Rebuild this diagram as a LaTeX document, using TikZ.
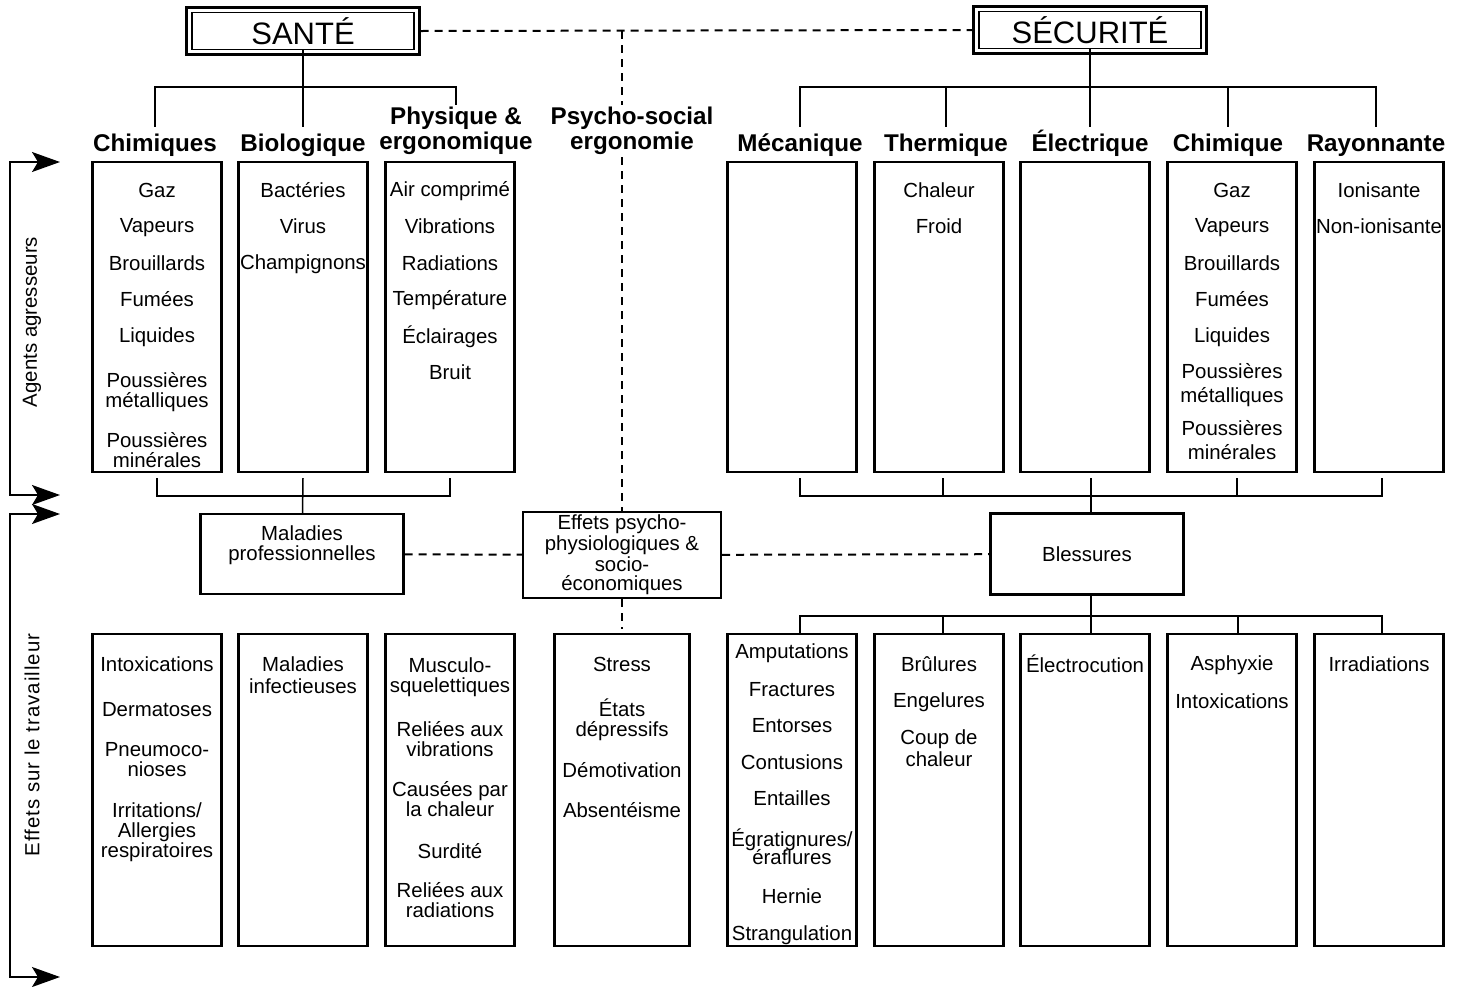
\documentclass[tikz,border=0pt]{standalone}
\usepackage{fontspec}
\setmainfont{Liberation Sans}
\usetikzlibrary{arrows.meta,calc}

\begin{document}
\begin{tikzpicture}[x=0.5pt, y=-0.5pt,
  box/.style={draw, line width=1.2pt, minimum width=64.5pt, minimum height=155pt, inner sep=0pt},
  lowbox/.style={box, minimum height=156pt},
  midbox/.style={draw, line width=1.2pt, align=center, inner sep=0pt, font=\fontsize{10.2}{9.5}\selectfont},
  titlebox/.style={draw, line width=0.7pt, minimum width=111pt, minimum height=18.5pt, inner sep=0pt, font=\fontsize{15.5}{18}\selectfont},
  head/.style={font=\bfseries\fontsize{12.1}{11}\selectfont, align=center, inner sep=1pt,
    execute at begin node={\rule{0pt}{11pt}}, execute at end node={\rule[-3pt]{0pt}{3pt}}},
  item/.style={font=\fontsize{10.2}{10}\selectfont, align=center, inner sep=0pt,
    execute at begin node={\rule{0pt}{7.6pt}}, execute at end node={\rule[-1.6pt]{0pt}{1.6pt}}},
  side/.style={font=\fontsize{10.2}{12}\selectfont, rotate=90},
  conn/.style={line width=0.75pt},
  dashline/.style={line width=1pt, dash pattern=on 4pt off 3pt},
  sidearrow/.style={line width=0.75pt, arrows={Stealth[length=14pt,width=10pt,inset=3pt]-Stealth[length=14pt,width=10pt,inset=3pt]}}]
\useasboundingbox (0,0) rectangle (1462,986);

% Titles
\node[titlebox] (sante) at (303,31) {SANTÉ};
\node[titlebox] (secu) at (1090,30) {SÉCURITÉ};
\draw[line width=1.5pt] ([shift={(-2.2pt,2.2pt)}]sante.north west) rectangle ([shift={(2.2pt,-2.2pt)}]sante.south east);
\draw[line width=1.5pt] ([shift={(-2.2pt,2.2pt)}]secu.north west) rectangle ([shift={(2.2pt,-2.2pt)}]secu.south east);
\coordinate (vtop) at (622,31);

% Categories
\node[head] (chimH) at (155,143) {Chimiques};
\node[head] (bioH) at (303,143) {Biologique};
\node[head] (physH) at (456,131) {Physique \&\\ergonomique};
\node[head] (psyH) at (632,131) {Psycho-social\\ergonomie};
\node[head] (mecaH) at (800,143) {Mécanique};
\node[head] (thermH) at (946,143) {Thermique};
\node[head] (elecH) at (1090,143) {Électrique};
\node[head] (chimsH) at (1228,143) {Chimique};
\node[head] (rayoH) at (1376,143) {Rayonnante};

% Agents
\node[box] (chim) at (157,317) {};
\node[box] (bio) at (303,317) {};
\node[box] (phys) at (450,317) {};
\node[box] (meca) at (792,317) {};
\node[box] (therm) at (939,317) {};
\node[box] (elec) at (1085,317) {};
\node[box] (chims) at (1232,317) {};
\node[box] (rayo) at (1379,317) {};

\foreach \t/\y [count=\i] in {Gaz/191, Vapeurs/227, Brouillards/264, Fumées/300, Liquides/337, {Poussières\\métalliques}/392, {Poussières\\minérales}/452}
  \node[item] (chim-\i) at (157,\y) {\t};
\foreach \t/\y [count=\i] in {Bactéries/191, Virus/227, Champignons/264}
  \node[item] (bio-\i) at (303,\y) {\t};
\foreach \t/\y [count=\i] in {Air comprimé/191, Vibrations/227, Radiations/264, Température/300, Éclairages/337, Bruit/373}
  \node[item] (phys-\i) at (450,\y) {\t};
\foreach \t/\y [count=\i] in {Chaleur/191, Froid/227}
  \node[item] (therm-\i) at (939,\y) {\t};
\foreach \t/\y [count=\i] in {Gaz/191, Vapeurs/227, Brouillards/264, Fumées/300, Liquides/337, {Poussières\\[2pt]métalliques}/385, {Poussières\\[2pt]minérales}/442}
  \node[item] (chims-\i) at (1232,\y) {\t};
\foreach \t/\y [count=\i] in {Ionisante/191, Non-ionisante/227}
  \node[item] (rayo-\i) at (1379,\y) {\t};

% Results
\node[midbox, minimum width=101.5pt, minimum height=40pt] (malad) at (302,554) {};
\node[item] (malad-t) at (302,545) {Maladies\\professionnelles};
\node[midbox, minimum width=99pt, minimum height=43pt] (effets) at (622,555) {Effets psycho-\\physiologiques \&\\socio-\\économiques};
\node[midbox, minimum width=96.5pt, minimum height=40.5pt] (bless) at (1087,554) {Blessures};

% Effects
\node[lowbox] (intox) at (157,790) {};
\node[lowbox] (malinf) at (303,790) {};
\node[lowbox] (musc) at (450,790) {};
\node[lowbox, minimum width=67.5pt] (stress) at (622,790) {};
\node[lowbox] (ampu) at (792,790) {};
\node[lowbox] (brul) at (939,790) {};
\node[lowbox] (elecro) at (1085,790) {};
\node[lowbox] (asph) at (1232,790) {};
\node[lowbox] (irrad) at (1379,790) {};

\foreach \t/\y [count=\i] in {Intoxications/665, Dermatoses/710, {Pneumoco-\\nioses}/761, {Irritations/\\Allergies\\respiratoires}/832}
  \node[item] (intox-\i) at (157,\y) {\t};
\node[item] (malinf-1) at (303,677) {Maladies\\[1pt]infectieuses};
\foreach \t/\y [count=\i] in {{Musculo-\\squelettiques}/677, {Reliées aux\\vibrations}/741, {Causées par\\la chaleur}/801, Surdité/852, {Reliées aux\\radiations}/902}
  \node[item] (musc-\i) at (450,\y) {\t};
\foreach \t/\y [count=\i] in {Stress/665, {États\\dépressifs}/720, Démotivation/771, Absentéisme/811}
  \node[item] (stress-\i) at (622,\y) {\t};
\foreach \t/\y [count=\i] in {Amputations/653, Fractures/690, Entorses/726, Contusions/763, Entailles/799, {Égratignures/\\[-1pt]éraflures}/848, Hernie/897, Strangulation/935}
  \node[item] (ampu-\i) at (792,\y) {\t};
\foreach \t/\y [count=\i] in {Brûlures/665, Engelures/702, {Coup de\\[1pt]chaleur}/750}
  \node[item] (brul-\i) at (939,\y) {\t};
\node[item] (elecro-1) at (1085,665) {Électrocution};
\foreach \t/\y [count=\i] in {Asphyxie/665, Intoxications/702}
  \node[item] (asph-\i) at (1232,\y) {\t};
\node[item] (irrad-1) at (1379,665) {Irradiations};

% Tree lines
\coordinate (sbar) at (303,87);
\coordinate (rbar) at (1090,87);
\draw[conn] (sante) -- (bioH);
\draw[conn] (chimH) |- (sbar) -| (physH);
\draw[conn] (secu) -- (elecH);
\draw[conn] (mecaH) |- (rbar) -| (rayoH);
\draw[conn] (thermH) -- (thermH |- rbar);
\draw[conn] (chimsH) -- (chimsH |- rbar);

\coordinate (lbar) at (303,496);
\coordinate (rbar2) at (1091,496);
\draw[conn] ([yshift=-2.5pt]chim.south) |- (lbar) -| ([yshift=-2.5pt]phys.south);
\draw[conn] ([yshift=-2.5pt]bio.south) -- (malad);
\draw[conn] ([xshift=4pt,yshift=-2.5pt]meca.south) |- (rbar2) -| ([xshift=1.5pt,yshift=-2.5pt]rayo.south);
\draw[conn] ([xshift=2pt,yshift=-2.5pt]therm.south) -- ++(0,19);
\draw[conn] ([xshift=2.5pt,yshift=-2.5pt]chims.south) -- ++(0,19);
\draw[conn] ([xshift=3pt,yshift=-2.5pt]elec.south) -- (bless.north -| rbar2);

\coordinate (rbar3) at (1091,616);
\draw[conn] (bless.south -| rbar3) -- ([xshift=3pt]elecro.north);
\draw[conn] ([xshift=4pt]ampu.north) |- (rbar3) -| ([xshift=1.5pt]irrad.north);
\draw[conn] ([xshift=2pt]brul.north) -- ++(0,-18);
\draw[conn] ([xshift=3pt]asph.north) -- ++(0,-18);

% Dashed links
\draw[dashline] ([xshift=3pt]sante.east) -- ([xshift=-3pt]secu.west);
\draw[dashline] (vtop) -- (vtop |- psyH.north);
\draw[dashline] (vtop |- psyH.south) -- (effets);
\draw[dashline, shorten >=2pt] (effets) -- (stress);
\draw[dashline] (malad) -- (effets);
\draw[dashline] (effets) -- (bless);

% Side arrows
\coordinate (sideL) at (10,0);
\coordinate (ag1) at (60,162);
\coordinate (ag2) at (60,495);
\coordinate (ef1) at (60,514);
\coordinate (ef2) at (60,977);
\draw[sidearrow] (ag1) -- (ag1 -| sideL) -- (ag2 -| sideL) -- (ag2);
\draw[sidearrow] (ef1) -- (ef1 -| sideL) -- (ef2 -| sideL) -- (ef2);
\node[side] (agents) at (32,322) {Agents agresseurs};
\node[side, font=\fontsize{10.2}{12}\addfontfeatures{LetterSpace=5}\selectfont] (effetsT) at (32,745) {Effets sur le travailleur};
\end{tikzpicture}
\end{document}
